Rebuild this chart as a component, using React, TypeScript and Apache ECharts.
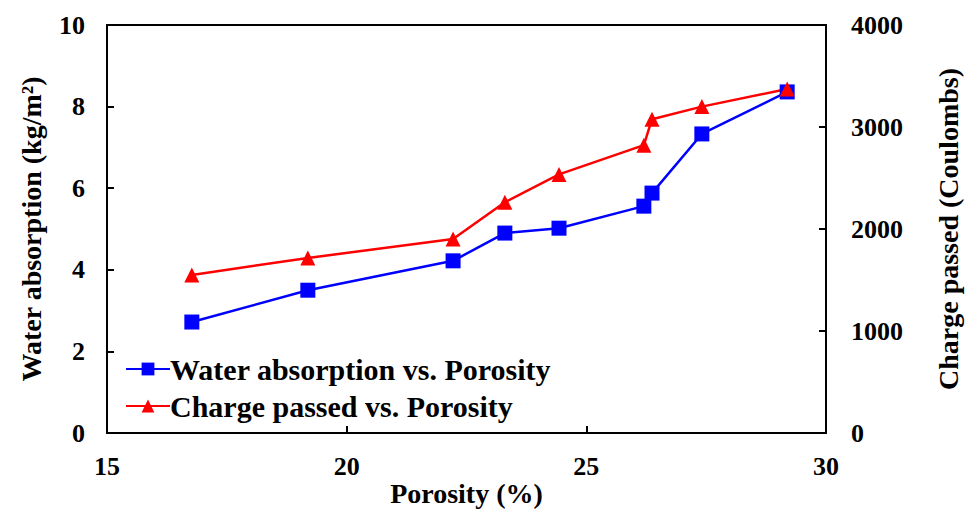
import React, { useEffect, useRef } from "react";
import * as echarts from "echarts";

const porosity = [16.77, 19.19, 22.22, 23.3, 24.43, 26.2, 26.37, 27.41, 29.19];
const waterAbsorption = [2.72, 3.5, 4.22, 4.9, 5.02, 5.56, 5.88, 7.33, 8.36];
const chargePassed = [1550, 1716, 1902, 2262, 2535, 2822, 3076, 3200, 3372];
const xTicks = [15, 20, 25, 30];
const seriesNames = ["Water absorption vs. Porosity", "Charge passed vs. Porosity"];

const FONT = "'Liberation Serif', 'Times New Roman', serif";

export default function App() {
  const ref = useRef<HTMLDivElement>(null);
  useEffect(() => {
    if (!ref.current) return;
    const chart = echarts.init(ref.current, undefined, { renderer: "svg" });
    const labelStyle = { fontFamily: FONT, fontWeight: "bold" as const, fontSize: 26, color: "#000" };
    const nameStyle = { fontFamily: FONT, fontWeight: "bold" as const, fontSize: 28, color: "#000" };
    chart.setOption({
      animation: false,
      backgroundColor: "#fff",
      grid: {
        left: 107,
        right: 148,
        top: 25,
        bottom: 78,
        show: true,
        borderColor: "#000",
        borderWidth: 2,
        containLabel: false,
        outerBoundsMode: "none",
      },
      legend: {
        orient: "vertical",
        left: 120,
        top: 349,
        itemWidth: 44,
        itemHeight: 16,
        itemGap: 7,
        textStyle: { fontFamily: FONT, fontWeight: "bold", fontSize: 30, color: "#000", padding: [0, 0, 0, -5] },
        data: seriesNames,
      },
      xAxis: {
        type: "value",
        min: 15,
        max: 30,
        interval: 5,
        name: "Porosity (%)",
        nameLocation: "middle",
        nameGap: 46,
        nameMoveOverlap: false,
        nameTextStyle: nameStyle,
        axisLine: { show: true, onZero: false, lineStyle: { color: "#000", width: 2 } },
        axisTick: { show: true, inside: true, length: 7, lineStyle: { color: "#000", width: 2 } },
        axisLabel: { ...labelStyle, margin: 20, formatter: (v: number) => (xTicks.includes(v) ? String(v) : "") },
        splitLine: { show: false },
      },
      yAxis: [
        {
          type: "value",
          min: 0,
          max: 10,
          interval: 2,
          position: "left",
          name: "Water absorption (kg/m²)",
          nameLocation: "middle",
          nameRotate: 90,
          nameGap: 62,
          nameMoveOverlap: false,
          nameTextStyle: nameStyle,
          axisLine: { show: true, lineStyle: { color: "#000", width: 2 } },
          axisTick: { show: true, inside: true, length: 7, lineStyle: { color: "#000", width: 2 } },
          axisLabel: { ...labelStyle, margin: 22 },
          splitLine: { show: false },
        },
        {
          type: "value",
          min: 0,
          max: 4000,
          interval: 1000,
          position: "right",
          name: "Charge passed (Coulombs)",
          nameLocation: "middle",
          nameRotate: 90,
          nameGap: 108,
          nameMoveOverlap: false,
          nameTextStyle: nameStyle,
          axisLine: { show: true, lineStyle: { color: "#000", width: 2 } },
          axisTick: { show: true, inside: true, length: 7, lineStyle: { color: "#000", width: 2 } },
          axisLabel: { ...labelStyle, margin: 25, formatter: (v: number) => String(v) },
          splitLine: { show: false },
        },
      ],
      series: [
        {
          name: seriesNames[0],
          type: "line",
          yAxisIndex: 0,
          data: porosity.map((x, i) => [x, waterAbsorption[i]]),
          symbol: "rect",
          symbolSize: 15,
          lineStyle: { color: "#0000FF", width: 2.5 },
          itemStyle: { color: "#0000FF" },
        },
        {
          name: seriesNames[1],
          type: "line",
          yAxisIndex: 1,
          data: porosity.map((x, i) => [x, chargePassed[i]]),
          symbol: "triangle",
          symbolSize: 15,
          lineStyle: { color: "#FF0000", width: 2.5 },
          itemStyle: { color: "#FF0000" },
        },
      ],
    });
    return () => chart.dispose();
  }, []);
  return <div ref={ref} style={{ width: 974, height: 511, position: "absolute", left: 0, top: 0 }} />;
}
